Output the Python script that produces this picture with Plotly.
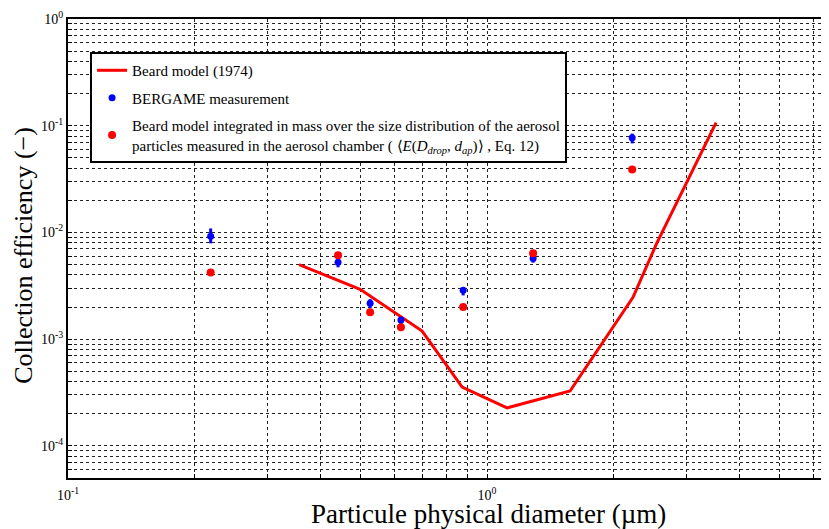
import plotly.graph_objects as go

# Beard model (1974)
beard_x = [0.356, 0.498, 0.70, 0.872, 1.116, 1.578, 2.23, 2.54, 3.52]
beard_y = [5.0e-3, 2.93e-3, 1.19e-3, 3.56e-4, 2.27e-4, 3.27e-4, 2.47e-3, 7.9e-3, 0.107]

# BERGAME measurement
meas_x = [0.219, 0.441, 0.526, 0.623, 0.877, 1.288, 2.22]
meas_y = [9.2e-3, 5.25e-3, 2.17e-3, 1.51e-3, 2.87e-3, 5.71e-3, 0.0773]
meas_err_plus = [1.7e-3, 3.4e-4, 2.0e-4, 1.0e-4, 2.0e-4, 4.0e-4, 7.0e-3]
meas_err_minus = [1.3e-3, 5.4e-4, 2.2e-4, 1.6e-4, 3.0e-4, 5.0e-4, 9.0e-3]

# Beard model integrated in mass
integ_x = [0.219, 0.441, 0.526, 0.623, 0.877, 1.288, 2.22]
integ_y = [4.22e-3, 6.1e-3, 1.79e-3, 1.29e-3, 2.0e-3, 6.37e-3, 0.0388]

x_tick_vals = [m * 10.0 ** e for e in (-1, 0) for m in range(1, 10)] + [10.0]
x_tick_text = ["10<sup>-1</sup>"] + [""] * 8 + ["10<sup>0</sup>"] + [""] * 8 + [""]
y_tick_vals = [m * 10.0 ** e for e in (-5, -4, -3, -2, -1) for m in range(1, 10)] + [1.0]
y_tick_text = []
for e in (-5, -4, -3, -2, -1):
    for m in range(1, 10):
        y_tick_text.append(f"10<sup>{e}</sup>" if (m == 1 and e > -5) else "")
y_tick_text.append("10<sup>0</sup>")

serif = "Liberation Serif"

fig = go.Figure()
fig.add_trace(go.Scatter(
    x=beard_x, y=beard_y, mode="lines", name="Beard model (1974)",
    line=dict(color="#ff0000", width=3), legendgroup="a"))
fig.add_trace(go.Scatter(
    x=meas_x, y=meas_y, mode="markers", name="BERGAME measurement",
    marker=dict(color="#0000ff", size=7, symbol="circle"),
    error_y=dict(type="data", symmetric=False, array=meas_err_plus,
                 arrayminus=meas_err_minus, color="#0000ff", thickness=3, width=0),
    legendgroup="b"))
fig.add_trace(go.Scatter(
    x=integ_x, y=integ_y, mode="markers",
    name=("Beard model integrated in mass over the size distribution of the aerosol<br>"
          "particles measured in the aerosol chamber ( ⟨<i>E</i>(<i>D</i><sub><i>drop</i></sub>, "
          "<i>d</i><sub><i>ap</i></sub>)⟩ , Eq. 12)"),
    marker=dict(color="#ff0000", size=8, symbol="circle"), legendgroup="c"))

axis_common = dict(
    type="log", showgrid=True, gridcolor="#222222", griddash="dot", gridwidth=1,
    showline=True, linecolor="black", linewidth=2, zeroline=False,
    ticks="inside", ticklen=4, tickcolor="black",
    tickfont=dict(family=serif, size=14, color="black"),
)

fig.update_xaxes(**axis_common, range=[-1, 0.816], tickvals=x_tick_vals,
                 ticktext=x_tick_text, mirror=True, ticklabelstandoff=3)
fig.update_yaxes(**axis_common, range=[-4.301, 0], tickvals=y_tick_vals,
                 ticktext=y_tick_text, mirror=False)

fig.add_annotation(text="Particule physical diameter (µm)", xref="paper", yref="paper",
                   x=0.553, y=-0.079, yanchor="middle", showarrow=False,
                   font=dict(family=serif, size=27, color="black"))
fig.add_annotation(text="Collection efficiency (−)", xref="paper", yref="paper",
                   x=-0.0578, xanchor="center", y=0.484, yanchor="middle",
                   textangle=-90, showarrow=False,
                   font=dict(family=serif, size=26, color="black"))

# the page body adds an 8 px margin, so the figure is shifted by 8 px
fig.update_layout(
    width=821, height=521,
    margin=dict(l=60, r=0, t=11, b=51),
    paper_bgcolor="white", plot_bgcolor="white",
    showlegend=True,
    legend=dict(x=0.029, y=0.928, xanchor="left", yanchor="top",
                bgcolor="white", bordercolor="black", borderwidth=2,
                font=dict(family=serif, size=15, color="black"),
                tracegroupgap=5),
)

fig.write_html("out.html")
